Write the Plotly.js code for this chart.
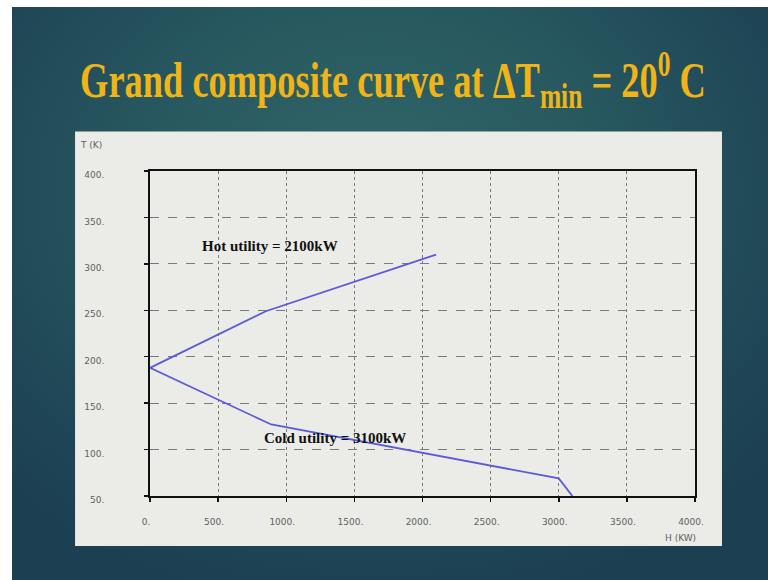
<!DOCTYPE html>
<html>
<head>
<meta charset="utf-8">
<script src="https://cdn.plot.ly/plotly-3.0.1.min.js"></script>
<style>
  html, body { margin: 0; padding: 0; background: #ffffff; }
  #slide { position: absolute; left: 12px; top: 7px; width: 756px; height: 573px;
    background: radial-gradient(ellipse 70% 75% at 48% 32%, #316667 0%, #285a60 40%, #1f4656 80%, #1c3f52 100%); }
  #chart { position: absolute; left: 0; top: 0; width: 768px; height: 580px; }
</style>
</head>
<body>
<div id="slide"></div>
<div id="chart"></div>
<script>
// Data
const hotH = [0, 850, 2100];
const hotT = [188, 249, 310];
const coldH = [0, 890, 3000, 3100];
const coldT = [188, 127, 69, 50];

const xTickVals = [0, 500, 1000, 1500, 2000, 2500, 3000, 3500, 4000];
const xTickText = ['0.', '500.', '1000.', '1500.', '2000.', '2500.', '3000.', '3500.', '4000.'];
const yTickVals = [50, 100, 150, 200, 250, 300, 350, 400];
const yTickText = ['50.', '100.', '150.', '200.', '250.', '300.', '350.', '400.'];

const hotLabel = {text: 'Hot utility = 2100kW', x: 880, y: 319};
const coldLabel = {text: 'Cold utility = 3100kW', x: 1355, y: 113};

const lineColor = '#5b5bd6';

const traces = [
  {x: hotH, y: hotT, type: 'scatter', mode: 'lines', line: {color: lineColor, width: 1.8}, showlegend: false},
  {x: coldH, y: coldT, type: 'scatter', mode: 'lines', line: {color: lineColor, width: 1.8}, showlegend: false}
];

const tickFont = {family: 'DejaVu Sans, sans-serif', size: 9, color: '#606060'};
const labelFont = {family: 'Liberation Serif, serif', size: 15, color: '#111111', weight: 'bold'};

const layout = {
  width: 768, height: 580,
  margin: {l: 149.5, r: 73, t: 171, b: 84},
  paper_bgcolor: 'rgba(0,0,0,0)',
  plot_bgcolor: 'rgba(0,0,0,0)',
  title: {
    text: 'Grand composite curve at ΔT<sub>min</sub> = 20<sup>0</sup> C',
    font: {family: 'Liberation Serif, serif', size: 50, color: '#f0b416', weight: 'bold'},
    xref: 'container', x: 393 / 768, xanchor: 'center',
    yref: 'container', y: 1 - 80 / 580, yanchor: 'middle'
  },
  xaxis: {
    range: [0, 4000], tickvals: xTickVals, ticktext: xTickText,
    tickfont: tickFont, ticks: 'outside', ticklen: 4, tickwidth: 1.5, tickcolor: '#111',
    showline: true, linecolor: '#111', linewidth: 1.8, mirror: true,
    showgrid: true, gridcolor: '#7a7a7a', gridwidth: 1, griddash: 'dot',
    zeroline: false, ticklabelstandoff: 12, ticklabelshift: -4
  },
  yaxis: {
    range: [50, 400], tickvals: yTickVals, ticktext: yTickText,
    tickfont: tickFont, ticks: 'outside', ticklen: 4, tickwidth: 1.5, tickcolor: '#111',
    showline: true, linecolor: '#111', linewidth: 1.8, mirror: true,
    showgrid: true, gridcolor: '#7a7a7a', gridwidth: 1, griddash: 'dash',
    zeroline: false, ticklabelstandoff: 38, ticklabelshift: 4
  },
  shapes: [{
    type: 'rect', xref: 'paper', yref: 'paper', layer: 'below',
    x0: -0.1375, x1: 1.0495, y0: -0.1538, y1: 1.1215,
    fillcolor: '#ebece8', line: {width: 0}
  }],
  annotations: [
    {text: hotLabel.text, x: hotLabel.x, y: hotLabel.y, xref: 'x', yref: 'y', showarrow: false, font: labelFont},
    {text: coldLabel.text, x: coldLabel.x, y: coldLabel.y, xref: 'x', yref: 'y', showarrow: false, font: labelFont},
    {text: 'T (K)', xref: 'paper', yref: 'paper', x: -0.109, y: 1.08, xanchor: 'center', yanchor: 'middle', showarrow: false, font: tickFont},
    {text: 'H (KW)', xref: 'paper', yref: 'paper', x: 0.974, y: -0.129, xanchor: 'center', yanchor: 'middle', showarrow: false, font: tickFont}
  ]
};

Plotly.newPlot('chart', traces, layout, {staticPlot: true, displayModeBar: false}).then(function () {
  const t = document.querySelector('.gtitle');
  if (t) {
    const bb = t.getBBox();
    const cx = bb.x + bb.width / 2;
    const s = 626 / bb.width;
    t.setAttribute('transform', 'translate(' + cx + ',0) scale(' + s + ',1) translate(' + (-cx) + ',0)');
  }
});
</script>
</body>
</html>
